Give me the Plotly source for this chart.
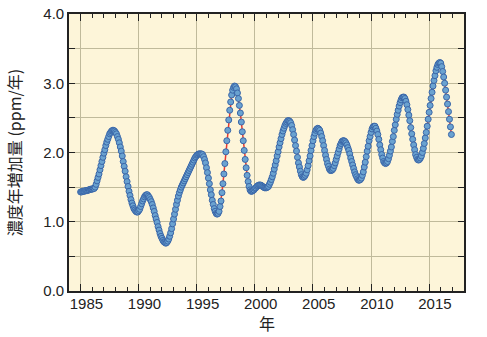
import plotly.graph_objects as go

# Monthly annual growth rate of CO2 concentration (ppm/year), one row per year
years = list(range(1985, 2017))
rate_by_year = [
    [1.43, 1.43, 1.44, 1.44, 1.44, 1.45, 1.45, 1.45, 1.46, 1.46, 1.47, 1.47],  # 1985
    [1.47, 1.48, 1.48, 1.50, 1.54, 1.59, 1.64, 1.69, 1.75, 1.81, 1.87, 1.93],  # 1986
    [1.99, 2.04, 2.10, 2.15, 2.19, 2.23, 2.27, 2.29, 2.31, 2.32, 2.32, 2.31],  # 1987
    [2.29, 2.27, 2.23, 2.19, 2.14, 2.08, 2.02, 1.95, 1.87, 1.80, 1.73, 1.65],  # 1988
    [1.58, 1.51, 1.44, 1.38, 1.32, 1.27, 1.23, 1.19, 1.17, 1.15, 1.14, 1.14],  # 1989
    [1.16, 1.18, 1.22, 1.26, 1.30, 1.33, 1.36, 1.38, 1.39, 1.39, 1.37, 1.35],  # 1990
    [1.32, 1.29, 1.25, 1.20, 1.15, 1.09, 1.04, 0.99, 0.93, 0.88, 0.83, 0.79],  # 1991
    [0.76, 0.73, 0.71, 0.70, 0.69, 0.70, 0.72, 0.75, 0.79, 0.84, 0.90, 0.97],  # 1992
    [1.04, 1.11, 1.18, 1.25, 1.31, 1.37, 1.42, 1.46, 1.50, 1.53, 1.56, 1.59],  # 1993
    [1.62, 1.65, 1.68, 1.71, 1.74, 1.77, 1.80, 1.83, 1.86, 1.89, 1.92, 1.94],  # 1994
    [1.96, 1.97, 1.98, 1.98, 1.98, 1.98, 1.97, 1.94, 1.90, 1.85, 1.78, 1.71],  # 1995
    [1.63, 1.55, 1.46, 1.39, 1.31, 1.25, 1.19, 1.15, 1.12, 1.11, 1.12, 1.15],  # 1996
    [1.22, 1.30, 1.42, 1.55, 1.69, 1.84, 2.01, 2.17, 2.32, 2.47, 2.61, 2.73],  # 1997
    [2.83, 2.90, 2.94, 2.96, 2.95, 2.92, 2.86, 2.78, 2.68, 2.57, 2.44, 2.30],  # 1998
    [2.17, 2.03, 1.90, 1.78, 1.67, 1.58, 1.51, 1.46, 1.44, 1.44, 1.45, 1.46],  # 1999
    [1.48, 1.49, 1.51, 1.52, 1.53, 1.53, 1.53, 1.52, 1.51, 1.50, 1.49, 1.49],  # 2000
    [1.49, 1.50, 1.51, 1.54, 1.57, 1.61, 1.65, 1.70, 1.76, 1.82, 1.88, 1.95],  # 2001
    [2.01, 2.08, 2.14, 2.20, 2.26, 2.31, 2.35, 2.39, 2.42, 2.44, 2.46, 2.46],  # 2002
    [2.45, 2.43, 2.39, 2.33, 2.26, 2.18, 2.10, 2.02, 1.93, 1.85, 1.79, 1.73],  # 2003
    [1.68, 1.65, 1.64, 1.65, 1.67, 1.70, 1.75, 1.81, 1.88, 1.95, 2.03, 2.10],  # 2004
    [2.17, 2.23, 2.28, 2.32, 2.34, 2.35, 2.34, 2.32, 2.28, 2.23, 2.17, 2.10],  # 2005
    [2.03, 1.96, 1.90, 1.84, 1.80, 1.76, 1.74, 1.74, 1.75, 1.77, 1.81, 1.85],  # 2006
    [1.90, 1.95, 2.00, 2.05, 2.10, 2.13, 2.16, 2.17, 2.17, 2.16, 2.14, 2.11],  # 2007
    [2.07, 2.03, 1.98, 1.92, 1.87, 1.82, 1.77, 1.72, 1.68, 1.65, 1.62, 1.60],  # 2008
    [1.60, 1.61, 1.63, 1.67, 1.72, 1.79, 1.86, 1.94, 2.02, 2.09, 2.17, 2.23],  # 2009
    [2.29, 2.34, 2.37, 2.38, 2.38, 2.35, 2.31, 2.26, 2.19, 2.11, 2.04, 1.97],  # 2010
    [1.92, 1.87, 1.85, 1.84, 1.85, 1.87, 1.91, 1.96, 2.02, 2.08, 2.16, 2.23],  # 2011
    [2.32, 2.40, 2.48, 2.55, 2.61, 2.67, 2.72, 2.76, 2.79, 2.80, 2.80, 2.78],  # 2012
    [2.74, 2.69, 2.62, 2.54, 2.46, 2.36, 2.27, 2.19, 2.11, 2.04, 1.97, 1.93],  # 2013
    [1.90, 1.89, 1.90, 1.92, 1.95, 2.00, 2.06, 2.13, 2.21, 2.29, 2.38, 2.48],  # 2014
    [2.58, 2.68, 2.78, 2.87, 2.96, 3.04, 3.11, 3.18, 3.23, 3.27, 3.29, 3.30],  # 2015
    [3.29, 3.24, 3.17, 3.09, 3.00, 2.90, 2.80, 2.70, 2.59, 2.48, 2.37, 2.26],  # 2016
]

year_ticks = [1985, 1990, 1995, 2000, 2005, 2010, 2015]
year_labels = [str(y) for y in year_ticks]
y_ticks = [0.0, 0.5, 1.0, 1.5, 2.0, 2.5, 3.0, 3.5, 4.0]
y_labels = ["0.0", "", "1.0", "", "2.0", "", "3.0", "", "4.0"]

# decimal-year time axis for the monthly values
t = []
v = []
for yr, row in zip(years, rate_by_year):
    for m, val in enumerate(row):
        t.append(yr + m / 12)
        v.append(val)

font = "Liberation Sans, Arial, Noto Sans CJK JP, sans-serif"
cjk_font = "Noto Sans CJK JP, Liberation Sans, sans-serif"
ink = "#222222"
grid_col = "#c0ba9b"

fig = go.Figure()
fig.add_trace(go.Scatter(
    x=t, y=v, mode="lines+markers",
    line=dict(color="#e8392f", width=1.5),
    marker=dict(symbol="circle", size=6, color="#6aa2d0",
                line=dict(color="#3a66a8", width=1)),
    showlegend=False, hoverinfo="skip",
))
# carrier trace for the year-label axis
fig.add_trace(go.Scatter(x=[1984, 2018], y=[None, None], xaxis="x2",
                         mode="markers", showlegend=False, hoverinfo="skip"))

fig.update_layout(
    width=487, height=337,
    margin=dict(l=69, r=23, t=14, b=46),
    paper_bgcolor="white",
    plot_bgcolor="#fdf5d9",
    font=dict(family=font, size=15, color=ink),
    xaxis=dict(
        range=[1984, 2018], tickmode="array", tickvals=year_ticks,
        showticklabels=False, ticks="inside", ticklen=7, tickwidth=1.2,
        tickcolor=ink, automargin=False,
        showgrid=True, gridcolor=grid_col, gridwidth=1, zeroline=False,
        showline=True, linecolor=ink, linewidth=1.6, mirror="ticks",
        minor=dict(tickmode="linear", tick0=1984, dtick=1, ticks="inside",
                   ticklen=4, tickwidth=1, tickcolor=ink, showgrid=False),
    ),
    # year labels sit in the middle of each labelled year
    xaxis2=dict(
        overlaying="x", anchor="y", side="bottom", range=[1984, 2018],
        tickmode="array", tickvals=[y + 0.5 for y in year_ticks],
        ticktext=year_labels, ticks="", showgrid=False, zeroline=False,
        showline=False, automargin=False, ticklabelstandoff=2,
        tickfont=dict(size=15, color=ink),
    ),
    yaxis=dict(
        range=[0, 4], tickmode="array", tickvals=y_ticks, ticktext=y_labels,
        ticks="inside", ticklen=6, tickwidth=1.2, tickcolor=ink,
        showgrid=True, gridcolor=grid_col, gridwidth=1, zeroline=False,
        showline=True, linecolor=ink, linewidth=1.6, mirror="ticks",
        automargin=False, tickfont=dict(size=15, color=ink),
    ),
    annotations=[
        dict(text="年", xref="paper", yref="paper", x=0.5, y=-0.115,
             xanchor="center", yanchor="middle", showarrow=False,
             font=dict(family=cjk_font, size=16, color=ink)),
        dict(text="濃度年増加量 (ppm/年)", xref="paper", yref="paper",
             x=-0.14, y=0.5, xanchor="center", yanchor="middle",
             textangle=-90, showarrow=False,
             font=dict(family=cjk_font, size=16, color=ink)),
    ],
)

fig.write_html("out.html")
